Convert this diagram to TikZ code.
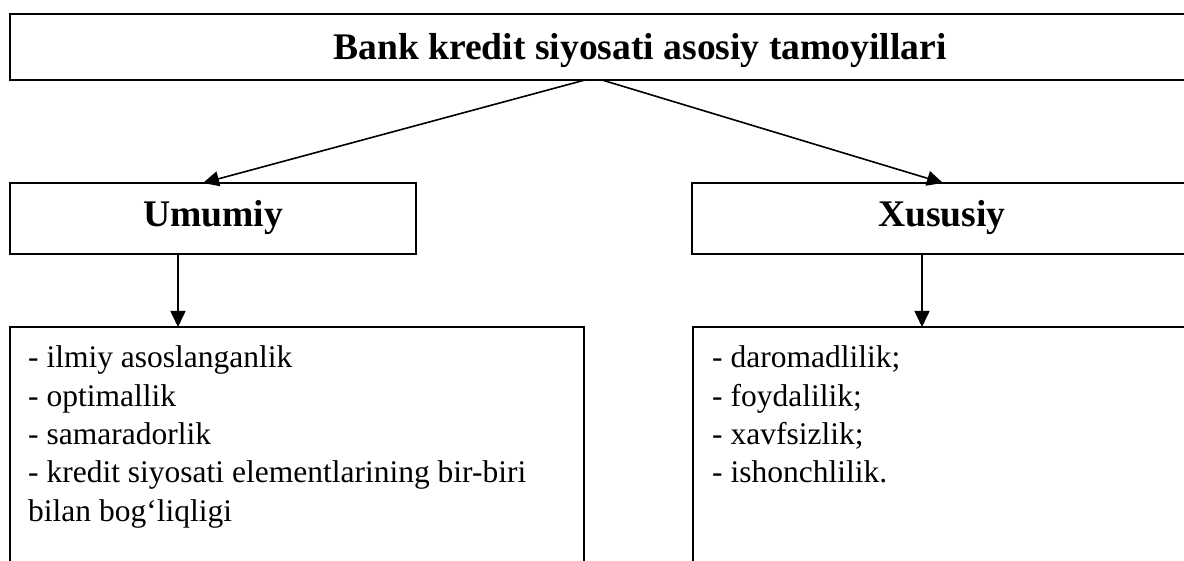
\documentclass[tikz,border=0pt]{standalone}
\usepackage{fontspec}
\setmainfont{Liberation Serif}
\usetikzlibrary{arrows.meta}
\begin{document}
\begin{tikzpicture}[x=1pt,y=-1pt,
  box/.style={draw, line width=1.6pt, inner sep=0pt, outer sep=0pt},
  conn/.style={line width=1.6pt, -{Triangle[length=16pt,width=15pt]}},
  head/.style={font=\fontsize{37.6}{44}\selectfont\bfseries},
  item/.style={font=\fontsize{31.5}{38}\selectfont, anchor=base west, inner sep=0pt}]
\useasboundingbox (0,0) rectangle (1184,561);
\node[box, head, minimum width=1260pt, minimum height=66pt, text height=30pt, text depth=4pt] (top) at (640,47) {Bank kredit siyosati asosiy tamoyillari};
\node[box, head, minimum width=406pt, minimum height=71pt, text height=22pt, text depth=5pt] (um) at (213,218.5) {Umumiy};
\node[box, head, minimum width=500pt, minimum height=71pt, text height=22pt, text depth=5pt] (xu) at (942,218.5) {Xususiy};
\node[box, minimum width=574pt, minimum height=293pt] (ll) at (297,473.5) {};
\node[box, minimum width=507pt, minimum height=293pt] (lr) at (946.5,473.5) {};
\draw[conn] ([xshift=-55pt]top.south) -- ([xshift=-10pt]um.north);
\draw[conn] ([xshift=-38pt]top.south) -- ([xshift=1pt]xu.north);
\draw[conn] ([xshift=-35pt]um.south) -- ([xshift=-35pt]um.south |- ll.north);
\draw[conn] ([xshift=-20pt]xu.south) -- ([xshift=-20pt]xu.south |- lr.north);
\node[item] (l1) at (28,368) {- ilmiy asoslanganlik};
\node[item] (l2) at (28,406.3) {- optimallik};
\node[item] (l3) at (28,444.6) {- samaradorlik};
\node[item] (l4) at (28,482.9) {- kredit siyosati elementlarining bir-biri};
\node[item] (l5) at (28,521.2) {bilan bog‘liqligi};
\node[item] (r1) at (712,368) {- daromadlilik;};
\node[item] (r2) at (712,406.3) {- foydalilik;};
\node[item] (r3) at (712,444.6) {- xavfsizlik;};
\node[item] (r4) at (712,482.9) {- ishonchlilik.};
\end{tikzpicture}
\end{document}
